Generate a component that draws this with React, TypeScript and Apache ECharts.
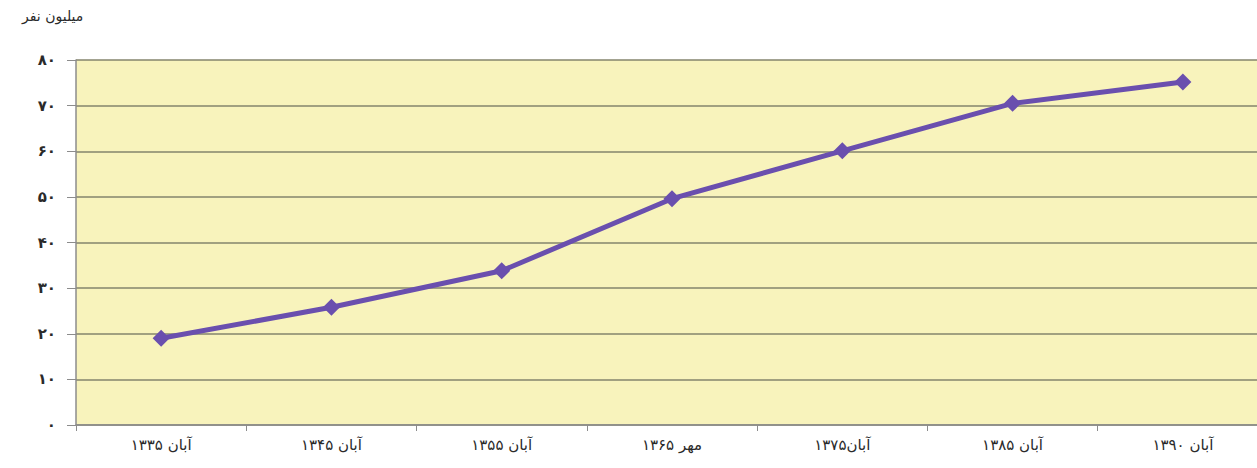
import React, { useEffect, useRef } from "react";
import * as echarts from "echarts";

const categories = ["آبان ۱۳۳۵", "آبان ۱۳۴۵", "آبان ۱۳۵۵", "مهر ۱۳۶۵", "آبان۱۳۷۵", "آبان ۱۳۸۵", "آبان ۱۳۹۰"];
const population = [19.0, 25.8, 33.8, 49.6, 60.1, 70.5, 75.2];
const yTickLabels: Record<number, string> = {
  0: "۰", 10: "۱۰", 20: "۲۰", 30: "۳۰", 40: "۴۰", 50: "۵۰", 60: "۶۰", 70: "۷۰", 80: "۸۰",
};
const yAxisName = "میلیون نفر";

export default function App() {
  const ref = useRef<HTMLDivElement>(null);
  useEffect(() => {
    if (!ref.current) return;
    const chart = echarts.init(ref.current, null, { renderer: "svg" });
    chart.setOption({
      animation: false,
      backgroundColor: "#ffffff",
      textStyle: { fontFamily: "DejaVu Sans, Noto Sans, sans-serif" },
      grid: {
        left: 76,
        top: 60,
        width: 1192,
        height: 365,
        show: true,
        backgroundColor: "#f8f3bc",
        borderWidth: 0,
        containLabel: false,
        outerBoundsMode: "none",
      },
      graphic: [
        {
          type: "text",
          left: 22,
          top: 9,
          style: { text: yAxisName, fill: "#2a2a2a", fontSize: 14, fontFamily: "DejaVu Sans, sans-serif" },
        },
      ],
      xAxis: {
        type: "category",
        data: categories,
        boundaryGap: true,
        axisLine: { show: true, lineStyle: { color: "#8c8c8c", width: 1.5 } },
        axisTick: { show: true, length: 6, lineStyle: { color: "#8c8c8c" } },
        axisLabel: { color: "#2a2a2a", fontSize: 15, margin: 12 },
      },
      yAxis: {
        type: "value",
        min: 0,
        max: 80,
        interval: 10,
        axisLine: { show: true, lineStyle: { color: "#8c8c8c", width: 1.5 } },
        axisTick: { show: true, length: 9, lineStyle: { color: "#8c8c8c" } },
        axisLabel: {
          color: "#2a2a2a",
          fontSize: 15,
          fontWeight: "bold",
          margin: 20,
          formatter: (v: number) => yTickLabels[v] ?? String(v),
        },
        splitLine: { show: true, lineStyle: { color: "#85856c", width: 1.5 } },
      },
      series: [
        {
          type: "line",
          data: population,
          symbol: "diamond",
          symbolSize: [17, 17],
          lineStyle: { color: "#6a4fae", width: 5 },
          itemStyle: { color: "#6a4fae" },
        },
      ],
    });
    return () => chart.dispose();
  }, []);
  return (
    <div
      ref={ref}
      style={{ position: "absolute", left: 0, top: 0, width: 1257, height: 468 }}
    />
  );
}
